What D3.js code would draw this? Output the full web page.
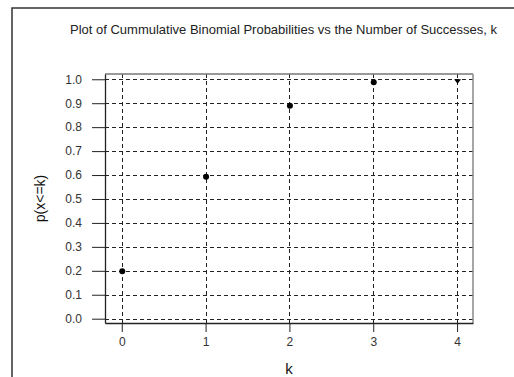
<!DOCTYPE html>
<html>
<head>
<meta charset="utf-8">
<script src="https://cdn.jsdelivr.net/npm/d3@7"></script>
<style>
  body { margin: 0; background: #fff; }
  svg { display: block; }
</style>
</head>
<body>
<div id="chart"></div>
<script>
// Data
const successes = [0, 1, 2, 3, 4];
const cumProb = [0.198, 0.593, 0.889, 0.988, 1.0];
const yTicks = [0, 0.1, 0.2, 0.3, 0.4, 0.5, 0.6, 0.7, 0.8, 0.9, 1.0];
const xTicks = [0, 1, 2, 3, 4];

const width = 514;
const height = 377;
const plot = { left: 105, top: 74, right: 473, bottom: 323 };

const svg = d3.select("#chart")
    .append("svg")
    .attr("width", width)
    .attr("height", height);

// outer frame (runs off the right and bottom edge)
svg.append("rect")
    .attr("x", 12).attr("y", 8)
    .attr("width", 520).attr("height", 400)
    .attr("fill", "none")
    .attr("stroke", "#333")
    .attr("stroke-width", 1.5);

svg.append("text")
    .attr("x", 70).attr("y", 34)
    .attr("font-family", "Liberation Sans, Arial, sans-serif")
    .attr("font-size", 13)
    .attr("fill", "#222")
    .text("Plot of Cummulative Binomial Probabilities vs the Number of Successes, k");

const x = d3.scaleLinear().domain([-0.2, 4.19]).range([plot.left, plot.right]);
const y = d3.scaleLinear().domain([-0.018, 1.022]).range([plot.bottom, plot.top]);

// grid
const grid = svg.append("g")
    .attr("stroke", "#222")
    .attr("stroke-width", 1)
    .attr("stroke-dasharray", "4,3");

grid.selectAll("line.h")
    .data(yTicks)
    .enter().append("line")
    .attr("x1", plot.left).attr("x2", plot.right)
    .attr("y1", d => Math.round(y(d)) + 0.5)
    .attr("y2", d => Math.round(y(d)) + 0.5);

grid.selectAll("line.v")
    .data(xTicks)
    .enter().append("line")
    .attr("y1", plot.top).attr("y2", plot.bottom)
    .attr("x1", d => Math.round(x(d)) + 0.5)
    .attr("x2", d => Math.round(x(d)) + 0.5);

// plot border
svg.append("line")
    .attr("x1", plot.left).attr("x2", plot.right)
    .attr("y1", plot.top).attr("y2", plot.top)
    .attr("stroke", "#777").attr("stroke-width", 1.5);
svg.append("line")
    .attr("x1", plot.right).attr("x2", plot.right)
    .attr("y1", plot.top).attr("y2", plot.bottom)
    .attr("stroke", "#888").attr("stroke-width", 1.5);

// axes
const axisFont = "Liberation Sans, Arial, sans-serif";

const yAxis = svg.append("g")
    .attr("transform", `translate(${plot.left},0)`)
    .call(d3.axisLeft(y).tickValues(yTicks).tickFormat(d3.format(".1f"))
        .tickSize(13).tickPadding(10).tickSizeOuter(0));
yAxis.select(".domain").attr("stroke", "#222").attr("stroke-width", 1.3);

const xAxis = svg.append("g")
    .attr("transform", `translate(0,${plot.bottom})`)
    .call(d3.axisBottom(x).tickValues(xTicks).tickFormat(d3.format("d"))
        .tickSize(9).tickPadding(5).tickSizeOuter(0));
xAxis.select(".domain").attr("stroke", "#222").attr("stroke-width", 1.3);

svg.selectAll(".tick line").attr("stroke", "#222");
svg.selectAll(".tick text")
    .attr("font-family", axisFont)
    .attr("font-size", 12)
    .attr("fill", "#333");

// axis titles
svg.append("text")
    .attr("x", (plot.left + plot.right) / 2).attr("y", 374)
    .attr("text-anchor", "middle")
    .attr("font-family", axisFont)
    .attr("font-size", 15)
    .attr("fill", "#111")
    .text("k");

svg.append("text")
    .attr("transform", `translate(45,${(plot.top + plot.bottom) / 2}) rotate(-90)`)
    .attr("text-anchor", "middle")
    .attr("font-family", axisFont)
    .attr("font-size", 14)
    .attr("fill", "#111")
    .text("p(x<=k)");

// points: the last one sits on the top line and shows as a small down triangle
const pts = successes.map((k, i) => ({ k: k, p: cumProb[i] }));

svg.selectAll("circle.pt")
    .data(pts.filter(d => d.p < 1))
    .enter().append("circle")
    .attr("cx", d => x(d.k) + 0.5)
    .attr("cy", d => y(d.p))
    .attr("r", 3)
    .attr("fill", "#000");

svg.selectAll("path.pt")
    .data(pts.filter(d => d.p >= 1))
    .enter().append("path")
    .attr("d", d => {
        const cx = x(d.k) + 0.5, cy = y(d.p);
        return `M${cx - 3.5},${cy} L${cx + 3.5},${cy} L${cx},${cy + 4.5} Z`;
    })
    .attr("fill", "#000");
</script>
</body>
</html>
